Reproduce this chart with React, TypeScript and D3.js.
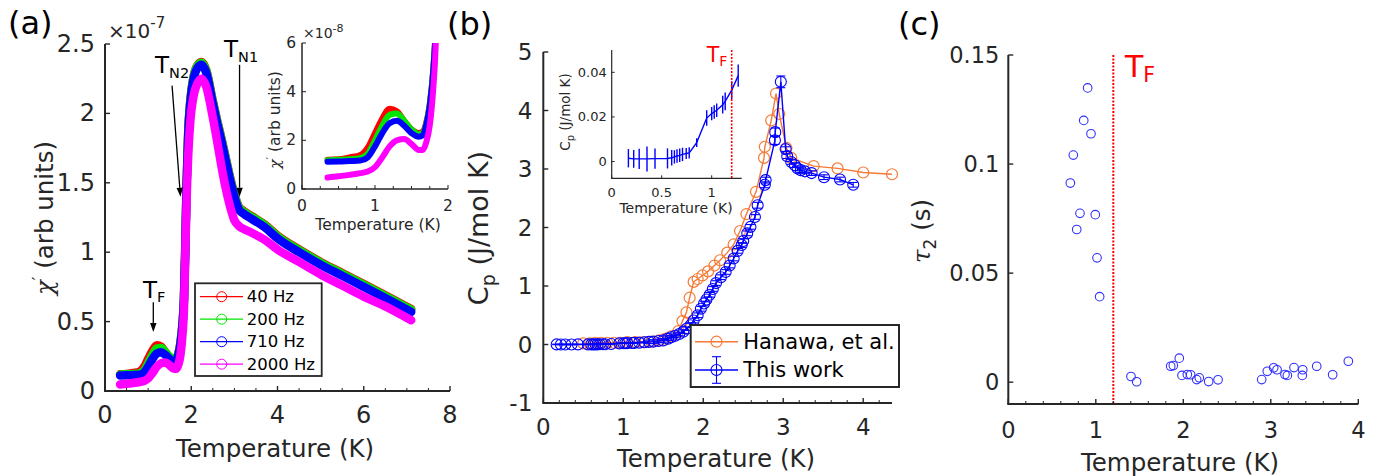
import React from "react";
import * as d3 from "d3";

const FONT = '"DejaVu Sans", sans-serif';
const INK = "#262626";

// ---------- Panel (a): ac susceptibility (units of 1e-7) ----------
const tempA = [0.35, 0.5, 0.65, 0.8, 0.9, 1.0, 1.1, 1.2, 1.3, 1.4, 1.5, 1.6, 1.65, 1.7, 1.75, 1.8, 1.83, 1.86, 1.89, 1.93, 1.98, 2.05, 2.15, 2.24, 2.35, 2.5, 2.6, 2.7, 2.8, 2.9, 3.0, 3.1, 3.2, 3.4, 3.7, 4.0, 4.5, 5.0, 5.5, 6.0, 6.5, 7.1];
const chi40 = [0.120, 0.122, 0.130, 0.140, 0.170, 0.230, 0.290, 0.330, 0.320, 0.280, 0.245, 0.230, 0.235, 0.27, 0.35, 0.50, 0.66, 1.02, 1.47, 1.87, 2.10, 2.26, 2.35, 2.37, 2.31, 2.09, 1.95, 1.82, 1.68, 1.54, 1.42, 1.33, 1.30, 1.26, 1.20, 1.12, 1.02, 0.93, 0.85, 0.77, 0.69, 0.59];
const chi200 = [0.118, 0.120, 0.122, 0.127, 0.145, 0.200, 0.260, 0.305, 0.310, 0.280, 0.245, 0.225, 0.230, 0.265, 0.345, 0.495, 0.655, 1.015, 1.465, 1.865, 2.095, 2.255, 2.345, 2.365, 2.305, 2.085, 1.945, 1.815, 1.675, 1.535, 1.415, 1.325, 1.295, 1.255, 1.195, 1.115, 1.015, 0.925, 0.845, 0.765, 0.685, 0.585];
const chi710 = [0.112, 0.113, 0.115, 0.117, 0.130, 0.175, 0.230, 0.270, 0.280, 0.260, 0.230, 0.215, 0.220, 0.26, 0.34, 0.49, 0.65, 1.0, 1.45, 1.85, 2.08, 2.24, 2.33, 2.35, 2.29, 2.07, 1.93, 1.80, 1.66, 1.52, 1.40, 1.31, 1.28, 1.24, 1.18, 1.10, 1.00, 0.91, 0.83, 0.75, 0.67, 0.57];
const chi2000 = [0.047, 0.052, 0.058, 0.065, 0.072, 0.090, 0.130, 0.175, 0.200, 0.205, 0.185, 0.160, 0.160, 0.19, 0.26, 0.42, 0.58, 0.95, 1.35, 1.70, 1.95, 2.12, 2.22, 2.25, 2.19, 1.97, 1.80, 1.62, 1.46, 1.33, 1.23, 1.19, 1.17, 1.14, 1.09, 1.02, 0.93, 0.84, 0.76, 0.68, 0.61, 0.51];
const freqLabels = ["40 Hz", "200 Hz", "710 Hz", "2000 Hz"];
const freqColors = ["#ff0000", "#00e600", "#0000ff", "#ff00ff"];
const aXTicks = [0, 2, 4, 6, 8];
const aYTicks = [0, 0.5, 1, 1.5, 2, 2.5];
const aInXTicks = [0, 1, 2];
const aInYTicks = [0, 2, 4, 6];

// ---------- Panel (b): heat capacity ----------
const hanT = [0.50, 0.58, 0.65, 0.72, 0.80, 0.88, 0.96, 1.05, 1.15, 1.25, 1.35, 1.45, 1.53, 1.60, 1.69, 1.74, 1.79, 1.83, 1.88, 1.93, 1.99, 2.06, 2.14, 2.21, 2.30, 2.38, 2.46, 2.54, 2.66, 2.76, 2.77, 2.85, 2.91, 2.95, 3.04, 3.10, 3.38, 3.68, 4.00, 4.36];
const hanCp = [0.02, 0.02, 0.03, 0.03, 0.03, 0.03, 0.03, 0.04, 0.04, 0.04, 0.05, 0.07, 0.10, 0.14, 0.23, 0.40, 0.55, 0.80, 1.07, 1.12, 1.18, 1.25, 1.35, 1.44, 1.57, 1.71, 1.94, 2.23, 2.61, 3.19, 3.38, 3.83, 4.29, 3.94, 3.36, 3.19, 3.05, 3.01, 2.94, 2.91];
const ourT = [0.167, 0.22, 0.275, 0.353, 0.433, 0.558, 0.60, 0.627, 0.653, 0.68, 0.708, 0.745, 0.775, 0.85, 0.95, 1.0, 1.025, 1.05, 1.11, 1.135, 1.20, 1.265,
  1.32, 1.38, 1.44, 1.50, 1.56, 1.60, 1.65, 1.70, 1.75, 1.79, 1.84, 1.88, 1.93, 1.97, 2.01, 2.04, 2.08, 2.12, 2.16, 2.22, 2.28, 2.33, 2.38, 2.43, 2.48, 2.50, 2.55, 2.59, 2.646, 2.68, 2.77, 2.78, 2.896, 2.90, 2.97, 3.03, 3.05, 3.10, 3.146, 3.18, 3.22, 3.27, 3.355, 3.51, 3.71, 3.875];
const ourCp = [0.0015, 0.0012, 0.0012, 0.0012, 0.0013, 0.0014, 0.0017, 0.0021, 0.0025, 0.0028, 0.0032, 0.0036, 0.0039, 0.0085, 0.0195, 0.0215, 0.0222, 0.023, 0.0255, 0.027, 0.032, 0.0385,
  0.045, 0.05, 0.06, 0.07, 0.10, 0.125, 0.15, 0.18, 0.22, 0.27, 0.33, 0.41, 0.50, 0.61, 0.70, 0.77, 0.85, 0.95, 1.05, 1.15, 1.24, 1.35, 1.47, 1.60, 1.70, 1.77, 1.90, 2.01, 2.18, 2.38, 2.73, 2.81, 3.49, 3.63, 4.49, 3.34, 3.22, 3.12, 3.065, 3.01, 2.98, 2.96, 2.93, 2.86, 2.82, 2.73];
const ourErr = [0.0041, 0.004, 0.0045, 0.0056, 0.0045, 0.0045, 0.0035, 0.003, 0.003, 0.003, 0.003, 0.0025, 0.0025, 0.002, 0.0035, 0.003, 0.003, 0.003, 0.004, 0.004, 0.004, 0.005,
  0.03, 0.03, 0.03, 0.03, 0.03, 0.03, 0.03, 0.03, 0.03, 0.03, 0.04, 0.04, 0.04, 0.04, 0.04, 0.04, 0.04, 0.04, 0.04, 0.04, 0.04, 0.04, 0.04, 0.04, 0.04, 0.04, 0.04, 0.04, 0.04, 0.05, 0.05, 0.05, 0.07, 0.07, 0.10, 0.04, 0.04, 0.04, 0.04, 0.04, 0.04, 0.04, 0.04, 0.04, 0.04, 0.04];
const bXTicks = [0, 1, 2, 3, 4];
const bYTicks = [-1, 0, 1, 2, 3, 4, 5];
const bInXTicks = [0, 0.5, 1];
const bInYTicks = [0, 0.02, 0.04];
const bInYLabels = ["0", "0.02", "0.04"];
const legendB = ["Hanawa, et al.", "This work"];
const TF = 1.2;

// ---------- Panel (c): relaxation time ----------
const tauT = [0.907, 0.862, 0.945, 0.743, 0.709, 0.819, 0.994, 0.782, 1.014, 1.044, 1.402, 1.467, 1.856, 1.886, 1.954, 1.985, 2.046, 2.084, 2.153, 2.183, 2.290, 2.397, 2.896, 2.960, 3.033, 3.071, 3.162, 3.189, 3.265, 3.360, 3.365, 3.525, 3.707, 3.886];
const tau2 = [0.1349, 0.120, 0.1139, 0.1041, 0.0913, 0.0774, 0.0768, 0.070, 0.057, 0.0392, 0.0026, 0.0002, 0.0073, 0.0076, 0.011, 0.0031, 0.0035, 0.0034, 0.0012, 0.002, 0.0003, 0.0011, 0.0012, 0.005, 0.0066, 0.0057, 0.0035, 0.0031, 0.0067, 0.0031, 0.0057, 0.0073, 0.0034, 0.0096];
const cXTicks = [0, 1, 2, 3, 4];
const cYTicks = [0, 0.05, 0.1, 0.15];

type Scale = d3.ScaleLinear<number, number>;

function LeftAxis({ y, x, ticks, labels, fontSize, gap, tickLen = 5, sw = 2 }: any) {
  const [y0, y1] = (y as Scale).range();
  return (
    <g>
      <line x1={x} x2={x} y1={y0} y2={y1} stroke={INK} strokeWidth={sw} />
      {ticks.map((t: number, i: number) => (
        <g key={i}>
          <line x1={x} x2={x + tickLen} y1={y(t)} y2={y(t)} stroke={INK} strokeWidth={Math.max(1, sw * 0.7)} />
          <text x={x - gap} y={y(t)} textAnchor="end" dominantBaseline="central" fontSize={fontSize} fill={INK} fontFamily={FONT}>
            {labels ? labels[i] : String(t)}
          </text>
        </g>
      ))}
    </g>
  );
}

function BottomAxis({ x, y, ticks, labels, minorStep, fontSize, baseline, tickLen = 5, sw = 2 }: any) {
  const [x0, x1] = (x as Scale).range();
  const dom = (x as Scale).domain();
  const minor: number[] = [];
  if (minorStep) {
    for (let v = dom[0]; v <= dom[1] + 1e-9; v += minorStep) {
      if (!ticks.some((t: number) => Math.abs(t - v) < 1e-6)) minor.push(v);
    }
  }
  return (
    <g>
      <line x1={x0 - sw / 2} x2={x1} y1={y} y2={y} stroke={INK} strokeWidth={sw} />
      {minor.map((v, i) => (
        <line key={"m" + i} x1={x(v)} x2={x(v)} y1={y} y2={y - 3} stroke={INK} strokeWidth={1} />
      ))}
      {ticks.map((t: number, i: number) => (
        <g key={i}>
          <line x1={x(t)} x2={x(t)} y1={y} y2={y - tickLen} stroke={INK} strokeWidth={Math.max(1, sw * 0.7)} />
          <text x={x(t)} y={baseline} textAnchor="middle" fontSize={fontSize} fill={INK} fontFamily={FONT}>
            {labels ? labels[i] : String(t)}
          </text>
        </g>
      ))}
    </g>
  );
}

function Arrow({ x1, y1, x2, y2 }: any) {
  const ang = Math.atan2(y2 - y1, x2 - x1);
  const L = 9, W = 3.2;
  const bx = x2 - L * Math.cos(ang), by = y2 - L * Math.sin(ang);
  const px = -Math.sin(ang) * W, py = Math.cos(ang) * W;
  return (
    <g>
      <line x1={x1} y1={y1} x2={bx} y2={by} stroke="#000" strokeWidth={1.3} />
      <polygon points={`${x2},${y2} ${bx + px},${by + py} ${bx - px},${by - py}`} fill="#000" />
    </g>
  );
}

export default function App() {
  const xA = d3.scaleLinear().domain([0, 8]).range([105, 450]);
  const yA = d3.scaleLinear().domain([0, 2.5]).range([391, 44]);
  const xAi = d3.scaleLinear().domain([0, 2]).range([302, 448]);
  const yAi = d3.scaleLinear().domain([0, 6]).range([189, 43]);
  const xB = d3.scaleLinear().domain([0, 4.36]).range([543.3, 892]);
  const yB = d3.scaleLinear().domain([-1, 5]).range([403, 52]);
  const xBi = d3.scaleLinear().domain([0, 1.3]).range([611.7, 741.7]);
  const yBi = d3.scaleLinear().domain([-0.0075, 0.05]).range([178.3, 50]);
  const xC = d3.scaleLinear().domain([0, 4]).range([1008.3, 1358.3]);
  const yC = d3.scaleLinear().domain([-0.01, 0.15]).range([404, 55]);

  const chiSeries = [chi40, chi200, chi710, chi2000];
  const lineA = (s: number[]) =>
    d3.line<number>().x((_, i) => xA(tempA[i])).y((d) => yA(d)).curve(d3.curveMonotoneX)(s) || "";
  const inIdx = tempA.map((t, i) => i).filter((i) => tempA[i] <= 1.9);
  const lineAi = (s: number[]) =>
    d3.line<number>().x((i) => xAi(tempA[i])).y((i) => yAi(s[i] * 10)).curve(d3.curveMonotoneX)(inIdx) || "";

  const lineB = (T: number[], C: number[], sx: Scale, sy: Scale) =>
    d3.line<number>().x((i) => sx(T[i])).y((i) => sy(C[i]))(T.map((_, i) => i)) || "";
  const inB = ourT.map((_, i) => i).filter((i) => ourT[i] <= 1.3);
  const lineBi = d3.line<number>().x((i) => xBi(ourT[i])).y((i) => yBi(ourCp[i]))(inB) || "";

  const orange = "#f47a36";
  const blue = "#0000ff";

  return (
    <svg width={1381} height={476} style={{ position: "absolute", left: 0, top: 0, background: "#fff" }} fontFamily={FONT}>
      <defs>
        <clipPath id="clipAi">
          <rect x={300} y={yAi(6)} width={160} height={yAi(0) - yAi(6) + 10} />
        </clipPath>
      </defs>

      {/* ================= Panel (a) ================= */}
      <text x={8} y={34} fontSize={32} fill="#000">(a)</text>
      {chiSeries.map((s, k) => (
        <path key={k} d={lineA(s)} fill="none" stroke={freqColors[k]} strokeWidth={8.5} strokeLinecap="round" strokeLinejoin="round" />
      ))}
      <LeftAxis y={yA} x={105} ticks={aYTicks} fontSize={24} gap={10} />
      <BottomAxis x={xA} y={391} ticks={aXTicks} minorStep={0.5} fontSize={24} baseline={423} />
      <text x={108} y={38} fontSize={20} fill={INK}>
        ×10<tspan dy={-10} fontSize={15}>-7</tspan>
      </text>
      <text x={275} y={457} textAnchor="middle" fontSize={24.5} fill={INK}>Temperature (K)</text>
      <text transform={`translate(53,218) rotate(-90)`} textAnchor="middle" fontSize={24.5} fill={INK}>
        <tspan fontStyle="italic" fontFamily='"DejaVu Serif", serif'>χ</tspan>
        <tspan dy={-9} fontSize={16}>′</tspan>
        <tspan dy={9}> (arb units)</tspan>
      </text>
      {/* annotations */}
      <text x={155} y={73} fontSize={23} fill="#000">T<tspan dy={5} fontSize={14.5}>N2</tspan></text>
      <Arrow x1={xA(1.555)} y1={yA(2.2)} x2={xA(1.75)} y2={yA(1.40)} />
      <text x={224} y={57} fontSize={23} fill="#000">T<tspan dy={5} fontSize={14.5}>N1</tspan></text>
      <Arrow x1={xA(3.12)} y1={yA(2.35)} x2={xA(3.12)} y2={yA(1.40)} />
      <text x={143} y={298} fontSize={23} fill="#000">T<tspan dy={4} fontSize={14.5}>F</tspan></text>
      <Arrow x1={xA(1.12)} y1={yA(0.64)} x2={xA(1.12)} y2={yA(0.425)} />
      {/* legend (a) */}
      <rect x={195} y={283.3} width={126.7} height={92.7} fill="#fff" stroke={INK} strokeWidth={1.8} />
      {freqLabels.map((lab, k) => {
        const yy = 296.7 + k * 22.5;
        return (
          <g key={lab}>
            <line x1={200} x2={243} y1={yy} y2={yy} stroke={freqColors[k]} strokeWidth={1.3} />
            <circle cx={221.7} cy={yy} r={5} fill="none" stroke={freqColors[k]} strokeWidth={1} />
            <text x={246.7} y={yy} dominantBaseline="central" fontSize={16.5} fill="#000">{lab}</text>
          </g>
        );
      })}
      {/* inset (a) */}
      <g clipPath="url(#clipAi)">
        {chiSeries.map((s, k) => (
          <path key={k} d={lineAi(s)} fill="none" stroke={freqColors[k]} strokeWidth={6} strokeLinecap="round" strokeLinejoin="round" />
        ))}
      </g>
      <LeftAxis y={yAi} x={302} ticks={aInYTicks} fontSize={15.5} gap={6} tickLen={4} sw={1.5} />
      <BottomAxis x={xAi} y={189} ticks={aInXTicks} minorStep={0.25} fontSize={15.5} baseline={211} tickLen={4} sw={1.5} />
      <text x={303} y={38} fontSize={14} fill={INK}>
        ×10<tspan dy={-6} fontSize={11}>-8</tspan>
      </text>
      <text x={378} y={230} textAnchor="middle" fontSize={15.5} fill={INK}>Temperature (K)</text>
      <text transform={`translate(280,120) rotate(-90)`} textAnchor="middle" fontSize={15.5} fill={INK}>
        <tspan fontStyle="italic" fontFamily='"DejaVu Serif", serif'>χ</tspan>
        <tspan dy={-6} fontSize={11}>′</tspan>
        <tspan dy={6}> (arb units)</tspan>
      </text>

      {/* ================= Panel (b) ================= */}
      <text x={447} y={35} fontSize={32} fill="#000">(b)</text>
      <path d={lineB(hanT, hanCp, xB, yB)} fill="none" stroke={orange} strokeWidth={1.4} />
      {hanT.map((t, i) => (
        <circle key={"h" + i} cx={xB(t)} cy={yB(hanCp[i])} r={5.5} fill="none" stroke={orange} strokeWidth={1.2} />
      ))}
      <path d={lineB(ourT, ourCp, xB, yB)} fill="none" stroke={blue} strokeWidth={1.4} />
      {ourT.map((t, i) => {
        const cx = xB(t);
        const ya = yB(ourCp[i] + ourErr[i]);
        const yb = yB(ourCp[i] - ourErr[i]);
        return (
          <g key={"o" + i}>
            <circle cx={cx} cy={yB(ourCp[i])} r={5.5} fill="none" stroke={blue} strokeWidth={1.1} />
            <line x1={cx} x2={cx} y1={ya} y2={yb} stroke={blue} strokeWidth={1.1} />
            <line x1={cx - 4.5} x2={cx + 4.5} y1={ya} y2={ya} stroke={blue} strokeWidth={1.1} />
            <line x1={cx - 4.5} x2={cx + 4.5} y1={yb} y2={yb} stroke={blue} strokeWidth={1.1} />
          </g>
        );
      })}
      <LeftAxis y={yB} x={543.3} ticks={bYTicks} fontSize={23} gap={11} />
      <BottomAxis x={xB} y={403} ticks={bXTicks} minorStep={0.2} fontSize={23} baseline={435} />
      <text x={716} y={467} textAnchor="middle" fontSize={24.5} fill={INK}>Temperature (K)</text>
      <text transform={`translate(488,228) rotate(-90)`} textAnchor="middle" fontSize={27} fill={INK}>
        C<tspan dy={7} fontSize={19}>p</tspan><tspan dy={-7}> (J/mol K)</tspan>
      </text>
      {/* legend (b) */}
      <rect x={690.7} y={325} width={208.3} height={62} fill="#fff" stroke={INK} strokeWidth={2} />
      <line x1={695} x2={738} y1={341.7} y2={341.7} stroke={orange} strokeWidth={1.4} />
      <circle cx={716.5} cy={341.7} r={5.5} fill="none" stroke={orange} strokeWidth={1.2} />
      <text x={743.3} y={341.7} dominantBaseline="central" fontSize={21} fill="#000">{legendB[0]}</text>
      <line x1={695} x2={738} y1={370} y2={370} stroke={blue} strokeWidth={1.4} />
      <circle cx={716.5} cy={370} r={5.5} fill="none" stroke={blue} strokeWidth={1.1} />
      <line x1={716.5} x2={716.5} y1={356.7} y2={383.3} stroke={blue} strokeWidth={1.1} />
      <line x1={712} x2={721} y1={356.7} y2={356.7} stroke={blue} strokeWidth={1.1} />
      <line x1={712} x2={721} y1={383.3} y2={383.3} stroke={blue} strokeWidth={1.1} />
      <text x={743.3} y={370} dominantBaseline="central" fontSize={21} fill="#000">{legendB[1]}</text>
      {/* inset (b) */}
      <path d={lineBi} fill="none" stroke={blue} strokeWidth={1.4} />
      {inB.map((i) => (
        <line key={"e" + i} x1={xBi(ourT[i])} x2={xBi(ourT[i])} y1={yBi(ourCp[i] - ourErr[i])} y2={yBi(ourCp[i] + ourErr[i])} stroke={blue} strokeWidth={1.4} />
      ))}
      <line x1={xBi(TF)} x2={xBi(TF)} y1={yBi(0.05)} y2={yBi(-0.0075)} stroke="#ff0000" strokeWidth={1.6} strokeDasharray="2 1.5" />
      <text x={706.7} y={61.7} fontSize={20.5} fill="#ff0000">T<tspan dy={4} fontSize={14}>F</tspan></text>
      <LeftAxis y={yBi} x={611.7} ticks={bInYTicks} labels={bInYLabels} fontSize={13} gap={5} tickLen={3} sw={1.2} />
      <BottomAxis x={xBi} y={178.3} ticks={bInXTicks} fontSize={13} baseline={197} tickLen={3} sw={1.2} />
      <text x={676} y={213} textAnchor="middle" fontSize={14} fill={INK}>Temperature (K)</text>
      <text transform={`translate(570,112) rotate(-90)`} textAnchor="middle" fontSize={13.5} fill={INK}>
        C<tspan dy={4} fontSize={10}>p</tspan><tspan dy={-4}> (J/mol K)</tspan>
      </text>

      {/* ================= Panel (c) ================= */}
      <text x={898} y={35} fontSize={32} fill="#000">(c)</text>
      <line x1={xC(TF)} x2={xC(TF)} y1={yC(0.15)} y2={yC(-0.01)} stroke="#ff0000" strokeWidth={2} strokeDasharray="2 1.5" />
      {tauT.map((t, i) => (
        <circle key={"c" + i} cx={xC(t)} cy={yC(tau2[i])} r={4.3} fill="none" stroke="#3030ff" strokeWidth={1.1} />
      ))}
      <LeftAxis y={yC} x={1008.3} ticks={cYTicks} fontSize={22.5} gap={9} />
      <BottomAxis x={xC} y={404} ticks={cXTicks} minorStep={0.2} fontSize={22.5} baseline={438} />
      <text x={1125} y={77} fontSize={30} fill="#ff0000">T<tspan dy={5} fontSize={20.5}>F</tspan></text>
      <text x={1180} y={471} textAnchor="middle" fontSize={24.5} fill={INK}>Temperature (K)</text>
      <text transform={`translate(930,231) rotate(-90)`} textAnchor="middle" fontSize={24.5} fill={INK}>
        <tspan fontStyle="italic" fontFamily='"DejaVu Serif", serif'>τ</tspan>
        <tspan dy={6} fontSize={17}>2</tspan>
        <tspan dy={-6}> (s)</tspan>
      </text>
    </svg>
  );
}
